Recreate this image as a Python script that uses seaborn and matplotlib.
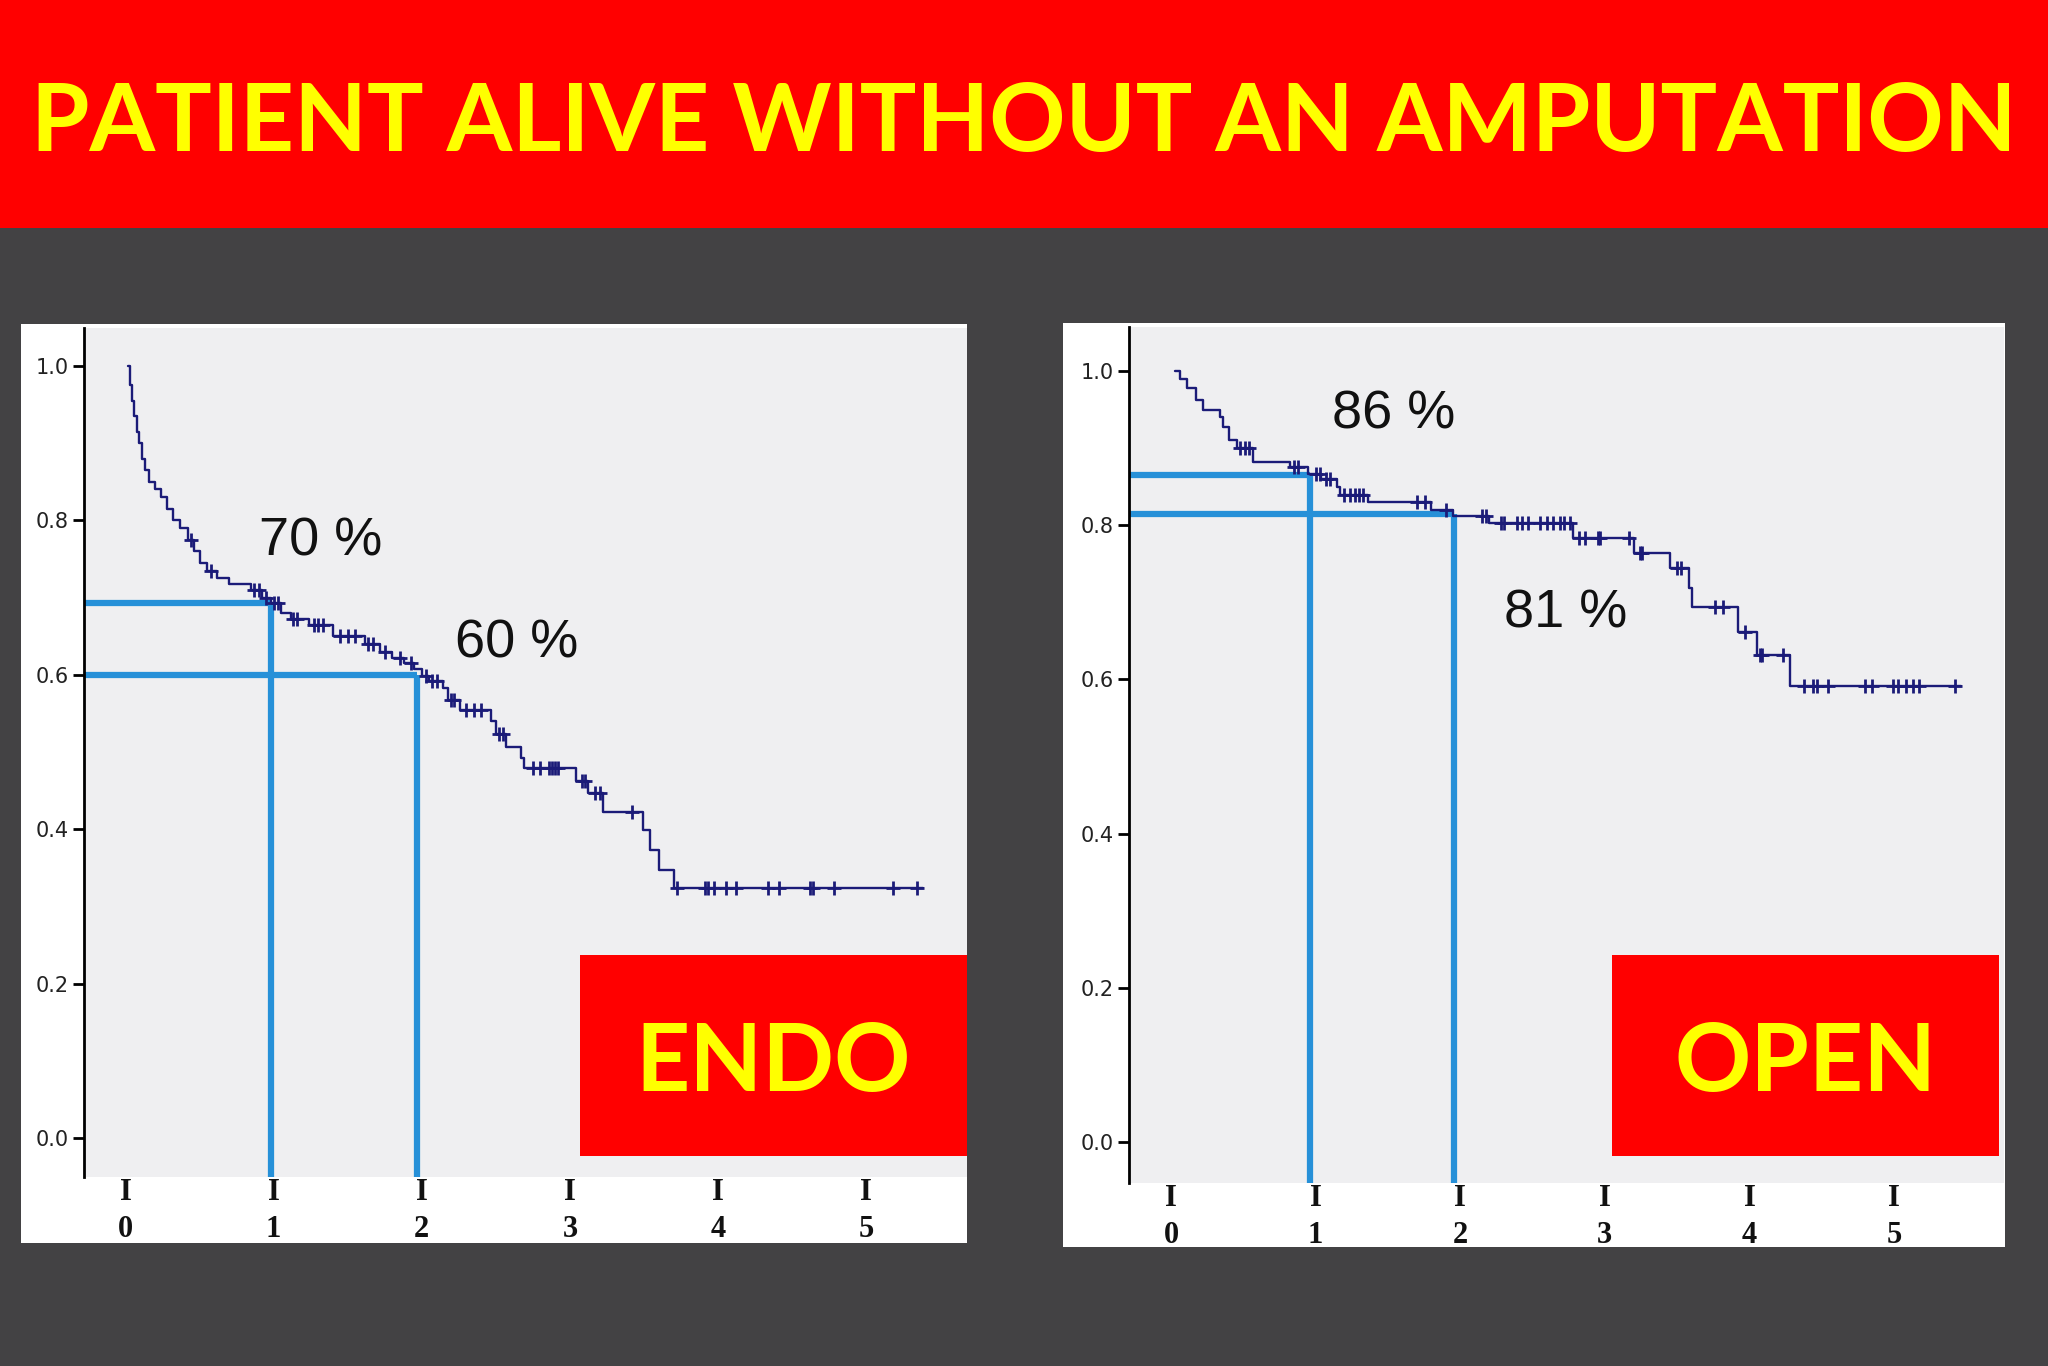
import numpy as np
import seaborn as sns
import matplotlib.pyplot as plt
from matplotlib.patches import Rectangle

# Kaplan-Meier steps (years, fraction alive w/o amputation)
endo_time = [0.02, 0.03, 0.045, 0.06, 0.075, 0.09, 0.11, 0.13, 0.16, 0.20,
             0.24, 0.28, 0.32, 0.37, 0.42, 0.46, 0.50, 0.55, 0.62, 0.70,
             0.85, 0.92, 0.98, 1.05, 1.12, 1.24, 1.40, 1.62, 1.72, 1.80,
             1.88, 1.95, 2.00, 2.05, 2.14, 2.18, 2.26, 2.47, 2.50, 2.57,
             2.67, 2.69, 3.04, 3.12, 3.22, 3.49, 3.54, 3.60, 3.70, 5.38]
endo_surv = [1.00, 0.975, 0.955, 0.935, 0.915, 0.90, 0.88, 0.865, 0.85, 0.84,
             0.83, 0.815, 0.80, 0.79, 0.775, 0.76, 0.745, 0.735, 0.725, 0.718,
             0.71, 0.70, 0.693, 0.68, 0.672, 0.664, 0.65, 0.64, 0.63, 0.622,
             0.615, 0.607, 0.598, 0.592, 0.583, 0.568, 0.555, 0.54, 0.524, 0.506,
             0.493, 0.48, 0.463, 0.447, 0.422, 0.399, 0.373, 0.347, 0.324, 0.324]
endo_censor = [0.44, 0.58, 0.87, 0.90, 0.95, 1.00, 1.03, 1.13, 1.16, 1.27,
               1.30, 1.33, 1.45, 1.50, 1.55, 1.64, 1.67, 1.75, 1.85, 1.93,
               2.03, 2.07, 2.10, 2.20, 2.22, 2.30, 2.35, 2.40, 2.52, 2.55,
               2.75, 2.80, 2.86, 2.88, 2.90, 2.92, 3.08, 3.10, 3.17, 3.20,
               3.42, 3.72, 3.91, 3.93, 3.97, 4.05, 4.12, 4.34, 4.41, 4.62,
               4.64, 4.78, 5.18, 5.34]

open_time = [0.03, 0.06, 0.11, 0.17, 0.22, 0.34, 0.36, 0.40, 0.46, 0.57,
             0.82, 0.95, 1.04, 1.15, 1.17, 1.36, 1.80, 1.95, 2.20, 2.78,
             3.20, 3.45, 3.58, 3.60, 3.92, 4.05, 4.28, 5.46]
open_surv = [1.00, 0.99, 0.978, 0.962, 0.949, 0.94, 0.927, 0.91, 0.90, 0.882,
             0.875, 0.866, 0.86, 0.85, 0.839, 0.83, 0.82, 0.812, 0.803, 0.783,
             0.764, 0.745, 0.718, 0.694, 0.661, 0.632, 0.591, 0.591]
open_censor = [0.48, 0.51, 0.54, 0.85, 0.88, 1.00, 1.03, 1.07, 1.10, 1.20,
               1.24, 1.27, 1.30, 1.33, 1.70, 1.76, 1.90, 2.15, 2.18, 2.28,
               2.30, 2.39, 2.43, 2.47, 2.55, 2.60, 2.64, 2.69, 2.72, 2.76,
               2.82, 2.86, 2.95, 2.97, 3.17, 3.24, 3.26, 3.50, 3.53, 3.76,
               3.82, 3.97, 4.07, 4.09, 4.23, 4.38, 4.44, 4.47, 4.54, 4.80,
               4.85, 4.99, 5.03, 5.08, 5.13, 5.17, 5.42]

# reading guides (year, survival) and their labels
endo_marks = [(0.98, 0.693), (1.97, 0.60)]
open_marks = [(0.96, 0.865), (1.96, 0.815)]
endo_labels = ["70 %", "60 %"]
open_labels = ["86 %", "81 %"]

title = "PATIENT ALIVE WITHOUT AN AMPUTATION"
x_ticks = [0, 1, 2, 3, 4, 5]
y_ticks = [0.0, 0.2, 0.4, 0.6, 0.8, 1.0]

BG = "#434244"
RED = "#ff0000"
YELLOW = "#ffff00"
PLOT_BG = "#efeff1"
GUIDE = "#2690d8"
CURVE = "#1b1b78"

W, H = 2048, 1366


def fig_rect(x0, y0, x1, y1):
    # pixel box (top-left origin) -> figure fraction
    return [x0 / W, 1 - y1 / H, (x1 - x0) / W, (y1 - y0) / H]


def censor_levels(times, surv, censor):
    idx = np.searchsorted(times, censor, side='right') - 1
    return np.asarray(surv)[idx]


def km_panel(fig, panel_px, axes_px, xlim, ylim, times, surv, censor,
             marks, labels, label_pos, box_px, box_text):
    x0, y0, x1, y1 = panel_px
    fig.add_artist(Rectangle((x0 / W, 1 - y1 / H), (x1 - x0) / W, (y1 - y0) / H,
                             transform=fig.transFigure, facecolor="white",
                             edgecolor="none", zorder=0))
    ax = fig.add_axes(fig_rect(*axes_px))
    ax.set_facecolor(PLOT_BG)
    ax.set_xlim(*xlim)
    ax.set_ylim(*ylim)

    sns.lineplot(x=times, y=surv, drawstyle='steps-post', ax=ax, color=CURVE,
                 linewidth=1.7, estimator=None, sort=False, zorder=3)
    sns.scatterplot(x=censor, y=censor_levels(times, surv, censor), ax=ax,
                    marker='+', s=90, color=CURVE, linewidth=2.0, zorder=4)

    for (mx, my) in marks:
        ax.plot([xlim[0], mx], [my, my], color=GUIDE, linewidth=4.5,
                solid_capstyle='butt', zorder=2)
        ax.plot([mx, mx], [my, ylim[0]], color=GUIDE, linewidth=4.5,
                solid_capstyle='butt', zorder=2)

    for text, (tx, ty) in zip(labels, label_pos):
        ax.text(tx, ty, text, ha='center', va='center', fontsize=39,
                family='Liberation Sans', color='#111111')

    ax.set_yticks(y_ticks)
    ax.set_yticklabels([f"{v:.1f}" for v in y_ticks])
    ax.set_xticks(x_ticks)
    ax.set_xticklabels([f"I\n{v}" for v in x_ticks], family='Liberation Serif',
                       fontweight='bold', fontsize=22, linespacing=1.35)
    ax.tick_params(axis='y', length=8, width=2, color='black', pad=3,
                   labelsize=15, labelcolor='#222222')
    ax.tick_params(axis='x', length=0, pad=1, labelcolor='#111111')
    for side in ['top', 'right', 'bottom']:
        ax.spines[side].set_visible(False)
    ax.spines['left'].set_color('black')
    ax.spines['left'].set_linewidth(2)
    ax.set_xlabel('')
    ax.set_ylabel('')

    bx0, by0, bx1, by1 = box_px
    fig.add_artist(Rectangle((bx0 / W, 1 - by1 / H), (bx1 - bx0) / W, (by1 - by0) / H,
                             transform=fig.transFigure, facecolor=RED,
                             edgecolor="none", zorder=5))
    fig.text((bx0 + bx1) / 2 / W, 1 - ((by0 + by1) / 2 + 8) / H, box_text,
             ha='center', va='center', fontsize=68, fontweight='bold',
             family='Lato', color=YELLOW, zorder=6)
    return ax


def main():
    sns.set_style("ticks")
    plt.rcParams['font.family'] = ['DejaVu Sans']
    fig = plt.figure(figsize=(W / 100, H / 100), dpi=100, facecolor=BG)

    # red banner with title
    fig.add_artist(Rectangle((0, 1 - 228 / H), 1, 228 / H, transform=fig.transFigure,
                             facecolor=RED, edgecolor="none", zorder=0))
    fig.text(0.5, 1 - 124 / H, title, ha='center', va='center', fontsize=68,
             fontweight='bold', family='Lato', color=YELLOW)

    km_panel(fig, (21, 324, 967, 1243), (84, 328, 967, 1177),
             (-0.28, 5.68), (-0.050, 1.049),
             endo_time, endo_surv, endo_censor, endo_marks, endo_labels,
             [(1.32, 0.772), (2.64, 0.641)], (580, 955, 967, 1156), "ENDO")
    km_panel(fig, (1063, 323, 2005, 1247), (1129, 327, 2004, 1183),
             (-0.29, 5.76), (-0.053, 1.057),
             open_time, open_surv, open_censor, open_marks, open_labels,
             [(1.54, 0.943), (2.73, 0.685)], (1612, 955, 1999, 1156), "OPEN")

    plt.savefig("out.png", dpi=100, facecolor=BG)
    plt.close()


if __name__ == '__main__':
    main()
